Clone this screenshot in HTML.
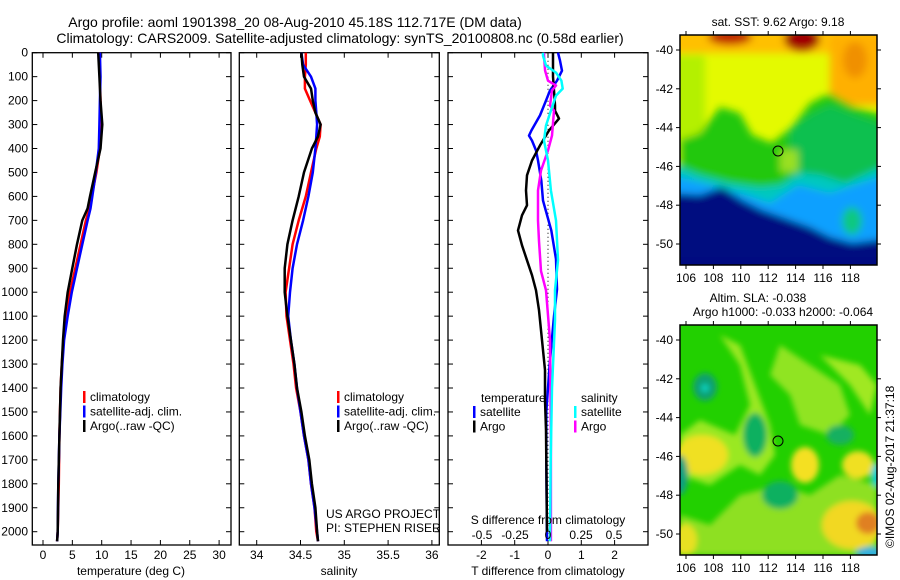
<!DOCTYPE html>
<html><head><meta charset="utf-8">
<style>
html,body{margin:0;padding:0;background:#fff;}
svg{display:block;font-family:"Liberation Sans",sans-serif;}
text{fill:#000;}
</style></head>
<body>
<svg id="fig" width="900" height="580" viewBox="0 0 900 580" xmlns="http://www.w3.org/2000/svg">
<defs>
<filter id="bl" x="-20%" y="-20%" width="140%" height="140%"><feGaussianBlur stdDeviation="4"/></filter>
<filter id="bl2" x="-20%" y="-20%" width="140%" height="140%"><feGaussianBlur stdDeviation="3"/></filter>
<clipPath id="c1"><rect x="0" y="0" width="197" height="230"/></clipPath>
</defs>
<text x="295" y="27" font-size="14" text-anchor="middle">Argo profile: aoml 1901398_20 08-Aug-2010 45.18S 112.717E (DM data)</text>
<text x="340" y="43" font-size="14" text-anchor="middle">Climatology: CARS2009. Satellite-adjusted climatology: synTS_20100808.nc (0.58d earlier)</text>

<g id="p1"></g>
<g id="p2"></g>
<g id="p3"></g>

<!-- SST map -->
<g transform="translate(680,35)">
 <g clip-path="url(#c1)">
  <rect width="197" height="230" fill="#e4fa00"/>
  <g filter="url(#bl)">
   <rect x="-10" y="-10" width="220" height="28" fill="#ffc000"/>
   <rect x="150" y="0" width="60" height="70" fill="#ffb000"/>
   <rect x="-10" y="20" width="35" height="110" fill="#b4f000"/>
   <ellipse cx="50" cy="2" rx="22" ry="8" fill="#c02000"/>
   <ellipse cx="122" cy="4" rx="18" ry="12" fill="#a00000"/>
   <ellipse cx="175" cy="25" rx="12" ry="18" fill="#f09000"/>
   <polygon points="0,105 20,98 40,72 60,78 72,100 92,108 112,92 130,68 150,58 175,72 205,80 205,200 0,200" fill="#22c810"/>
   <polygon points="110,95 130,80 150,70 175,80 205,90 205,150 110,150" fill="#10c050"/>
   <rect x="100" y="115" width="18" height="22" fill="#9ae020"/>
   <polygon points="-10,128 20,140 50,148 80,152 100,150 120,138 140,140 165,148 205,130 205,240 -10,240" fill="#00c8c0"/>
   <polygon points="-10,140 30,150 60,158 90,168 118,150 150,158 205,140 205,240 -10,240" fill="#10a0ff"/>
   <ellipse cx="172" cy="186" rx="10" ry="14" fill="#10c880"/>
   <polygon points="-10,158 20,160 42,152 62,165 82,175 102,182 130,192 150,202 172,208 205,204 205,240 -10,240" fill="#000a80"/>
  </g>
  <rect x="0" y="222" width="197" height="10" fill="#000a80"/>
 </g>
 <rect width="197" height="230" fill="none" stroke="#000" stroke-width="1.5"/>
 <circle cx="98" cy="116" r="5" fill="none" stroke="#000"/>
</g>
<text x="778" y="26" font-size="12" text-anchor="middle">sat. SST: 9.62  Argo: 9.18</text>

<!-- SLA map -->
<g transform="translate(680,325)">
 <g clip-path="url(#c1)">
  <rect width="197" height="230" fill="#22d000"/>
  <g filter="url(#bl2)">
   <path d="M40,10 L60,40 L70,80 L55,110 L20,95 L0,110 L0,150 L30,160 L60,140 L80,150 L95,130 L90,100 L75,60 L60,20Z" fill="#9ae820"/>
   <path d="M60,170 L100,160 L130,170 L160,150 L197,160 L197,230 L0,230 L0,190 L30,200Z" fill="#8ee020"/>
   <path d="M100,20 L130,40 L160,60 L170,90 L150,110 L120,100 L110,70 L90,50Z" fill="#90e420"/>
   <path d="M140,30 L180,40 L197,60 L190,90 L170,60Z" fill="#a0e820"/>
   <ellipse cx="22" cy="130" rx="26" ry="20" fill="#f0e020"/>
   <ellipse cx="125" cy="140" rx="14" ry="18" fill="#f4e020"/>
   <ellipse cx="178" cy="140" rx="16" ry="14" fill="#f0e020"/>
   <ellipse cx="172" cy="200" rx="30" ry="24" fill="#f2d820"/>
   <ellipse cx="188" cy="198" rx="12" ry="11" fill="#e08020"/>
   <ellipse cx="5" cy="215" rx="12" ry="16" fill="#e8e020"/>
   <ellipse cx="25" cy="62" rx="12" ry="14" fill="#10a070"/>
   <ellipse cx="25" cy="63" rx="4" ry="4" fill="#10d0c0"/>
   <ellipse cx="75" cy="110" rx="12" ry="22" fill="#10b060"/>
   <ellipse cx="100" cy="170" rx="18" ry="14" fill="#10b060"/>
   <ellipse cx="160" cy="110" rx="14" ry="10" fill="#18b060"/>
   <ellipse cx="0" cy="150" rx="8" ry="20" fill="#10a080"/>
   <ellipse cx="197" cy="150" rx="6" ry="12" fill="#10d0d0"/>
   <ellipse cx="190" cy="228" rx="14" ry="6" fill="#30b0e0"/>
  </g>
 </g>
 <rect width="197" height="230" fill="none" stroke="#000" stroke-width="1.5"/>
 <circle cx="98" cy="116" r="5" fill="none" stroke="#000"/>
</g>
<text x="758" y="302" font-size="12" text-anchor="middle">Altim. SLA: -0.038</text>
<text x="783" y="316" font-size="12" text-anchor="middle">Argo h1000: -0.033 h2000: -0.064</text>
<text transform="translate(894,548) rotate(-90)" font-size="12">©IMOS 02-Aug-2017 21:37:18</text>
<g id="mapaxes"></g>
</svg>
<script>
// ---- data ----
const tDepth   = [0,100,200,300,400,500,600,650,700,800,900,1000,1100,1200,1300,1400,1600,1800,2000,2040];
const tArgo    = [9.4,9.6,9.8,10.1,9.8,8.9,8.0,7.6,6.7,5.8,5.0,4.2,3.7,3.4,3.2,3.0,2.8,2.6,2.5,2.4];
const tClim    = [9.6,9.7,9.8,9.9,9.7,9.1,8.3,7.9,7.3,6.4,5.5,4.6,4.0,3.5,3.2,3.0,2.8,2.7,2.5,2.4];
const tSat     = [9.7,9.8,9.7,9.6,9.5,9.0,8.4,8.1,7.6,6.7,5.8,4.9,4.2,3.6,3.3,3.1,2.8,2.6,2.5,2.4];
const sDepth   = [0,50,100,150,200,250,300,350,400,500,600,700,800,900,1000,1100,1200,1300,1400,1500,1600,1700,1800,1900,2000,2040];
const sArgo    = [34.51,34.52,34.54,34.62,34.64,34.67,34.73,34.70,34.63,34.54,34.48,34.41,34.35,34.32,34.32,34.35,34.39,34.43,34.46,34.51,34.55,34.60,34.63,34.67,34.69,34.70];
const sClim    = [34.56,34.56,34.55,34.55,34.61,34.67,34.73,34.72,34.68,34.62,34.56,34.48,34.41,34.37,34.33,34.34,34.38,34.42,34.45,34.50,34.54,34.59,34.62,34.66,34.68,34.70];
const sSat     = [34.51,34.53,34.62,34.67,34.67,34.68,34.69,34.68,34.67,34.64,34.59,34.53,34.46,34.41,34.38,34.36,34.39,34.43,34.46,34.50,34.54,34.59,34.62,34.66,34.69,34.70];
const dTSatDepth = [0,33,75,117,158,200,262,325,346,367,408,450,533,617,742,862,988,1100,1300,1500,1700,2040];
const dTSat      = [0.3,0.36,0.42,0.27,0.06,-0.06,-0.24,-0.5,-0.57,-0.48,-0.36,-0.3,-0.2,-0.15,0.1,0.24,0.27,0.18,0.05,-0.05,-0.05,-0.03];
const dTArgoDepth= [0,100,200,221,242,275,325,387,450,512,575,637,679,742,804,867,929,992,1075,1200,1325,1450,1575,2000];
const dTArgo     = [0.15,0.15,0.2,0.21,0.21,0.33,0.03,-0.24,-0.48,-0.63,-0.66,-0.63,-0.78,-0.9,-0.78,-0.63,-0.48,-0.36,-0.27,-0.18,-0.09,-0.09,-0.06,-0.03];
const dSArgoDepth= [0,12,75,117,137,158,221,242,346,408,492,575,700,787,912,992,1200,1600,2040];
const dSArgo     = [-0.03,-0.03,-0.022,0,0.06,0.03,0.015,0.045,0.03,0,-0.052,-0.075,-0.075,-0.067,-0.052,-0.015,0.015,0.022,0.022];
const dSSatDepth = [0,12,54,83,117,150,179,242,304,367,450,575,700,867,992,1117,1400,1700,2040];
const dSSat      = [-0.037,-0.037,-0.015,0.06,0.1,0.11,0.06,0.022,-0.015,-0.03,0,0.022,0.06,0.075,0.052,0.052,0.03,0.02,0.015];
const tTicks = [0,5,10,15,20,25,30];
const sTicks = [34,34.5,35,35.5,36];
const dtTicks = [-2,-1,0,1,2];
const dsTicks = [-0.5,-0.25,0,0.25,0.5];
const dsTickLabels = ["-0.5","-0.25","0","0.25","0.5"];
const depthTicks = [0,100,200,300,400,500,600,700,800,900,1000,1100,1200,1300,1400,1500,1600,1700,1800,1900,2000];
const lonTicks = [106,108,110,112,114,116,118];
const latTicks = [-40,-42,-44,-46,-48,-50];

// ---- helpers ----
const NS="http://www.w3.org/2000/svg";
const fig=document.getElementById('fig');
function mk(tag,parent,attrs){const e=document.createElementNS(NS,tag);for(const k in attrs)e.setAttribute(k,attrs[k]);parent.appendChild(e);return e;}
const top0=52.7, perDepth=0.2395, bottom=545;
const yD=d=>top0+d*perDepth;

function panel(g,x0,x1,xs,ticks,labels,name){
  const r=mk('rect',g,{x:x0,y:top0,width:x1-x0,height:bottom-top0,fill:'none',stroke:'#000','stroke-width':1.3});
  
  
  ticks.forEach((t,i)=>{
    const x=xs(t);
    mk('line',g,{x1:x,x2:x,y1:bottom,y2:bottom-5,stroke:'#000'});
    mk('line',g,{x1:x,x2:x,y1:top0,y2:top0+5,stroke:'#000'});
    if(labels){const tx=mk('text',g,{x:x,y:bottom+14,'font-size':12,'text-anchor':'middle'});tx.textContent=labels[i];
      
      }
  });
  depthTicks.forEach(d=>{
    mk('line',g,{x1:x0,x2:x0+5,y1:yD(d),y2:yD(d),stroke:'#000'});
    mk('line',g,{x1:x1,x2:x1-5,y1:yD(d),y2:yD(d),stroke:'#000'});
  });
}
function line(g,xs,depths,vals,color,name){
  const pts=depths.map((d,i)=>xs(vals[i]).toFixed(1)+','+yD(d).toFixed(1)).join(' ');
  const p=mk('polyline',g,{points:pts,fill:'none',stroke:color,'stroke-width':2.5,'stroke-linejoin':'round'});
  
  
}
function legend(g,x,y,items){
  items.forEach((it,i)=>{
    mk('rect',g,{x:x,y:y+i*14.5-10,width:2.5,height:12,fill:it[1]});
    const t=mk('text',g,{x:x+7,y:y+i*14.5,'font-size':12});t.textContent=it[0];
    
    
  });
}
function txt(g,x,y,s,anchor,name){const t=mk('text',g,{x:x,y:y,'font-size':12,'text-anchor':anchor||'start'});t.textContent=s;
  
  return t;}

// Panel 1
const p1=document.getElementById('p1');
const xT=v=>43+v*5.87;
panel(p1,32.3,231,xT,tTicks,tTicks.map(String),'temperature-panel');
depthTicks.forEach(d=>{txt(p1,28,yD(d)+4,String(d),'end','y-tick-label');});
line(p1,xT,tDepth,tClim,'#ff0000','temp-climatology-line');
line(p1,xT,tDepth,tSat,'#0000ff','temp-satellite-line');
line(p1,xT,tDepth,tArgo,'#000000','temp-argo-line');
legend(p1,83,401,[['climatology','#ff0000'],['satellite-adj. clim.','#0000ff'],['Argo(..raw -QC)','#000']]);
txt(p1,131,575,'temperature (deg C)','middle','x-axis-title-temperature');

// Panel 2
const p2=document.getElementById('p2');
const xS=v=>256.7+(v-34)*87.6;
panel(p2,239.3,439.3,xS,sTicks,sTicks.map(String),'salinity-panel');
line(p2,xS,sDepth,sClim,'#ff0000','sal-climatology-line');
line(p2,xS,sDepth,sSat,'#0000ff','sal-satellite-line');
line(p2,xS,sDepth,sArgo,'#000000','sal-argo-line');
legend(p2,337,401,[['climatology','#ff0000'],['satellite-adj. clim.','#0000ff'],['Argo(..raw -QC)','#000']]);
txt(p2,326,518,'US ARGO PROJECT','start','project-credit');
txt(p2,326,532,'PI: STEPHEN RISER','start','pi-credit');
txt(p2,339,575,'salinity','middle','x-axis-title-salinity');

// Panel 3
const p3=document.getElementById('p3');
const xdT=v=>548+v*33.3;
const xdS=v=>548+v*134;
panel(p3,448,648,xdT,dtTicks,dtTicks.map(String),'difference-panel');
mk('line',p3,{x1:548,x2:548,y1:top0,y2:bottom,stroke:'#000','stroke-dasharray':'1,3'});
line(p3,xdT,dTSatDepth,dTSat,'#0000ff','dT-satellite-line');
line(p3,xdT,dTArgoDepth,dTArgo,'#000000','dT-argo-line');
line(p3,xdS,dSArgoDepth,dSArgo,'#ff00ff','dS-argo-line');
line(p3,xdS,dSSatDepth,dSSat,'#00ffff','dS-satellite-line');
txt(p3,481,402,'temperature','start','legend-title-temperature');
txt(p3,581,402,'salinity','start','legend-title-salinity');
legend(p3,473,416,[['satellite','#0000ff'],['Argo','#000']]);
legend(p3,574,416,[['satellite','#00ffff'],['Argo','#ff00ff']]);
txt(p3,548,524,'S difference from climatology','middle','s-diff-axis-title');
const xdSlab=v=>548+v*132;
dsTicks.forEach((t,i)=>txt(p3,xdSlab(t),539,dsTickLabels[i],'middle','s-diff-tick-label'));
txt(p3,548,575,'T difference from climatology','middle','x-axis-title-tdiff');

// map axes
const ma=document.getElementById('mapaxes');
const lonX=l=>686+(l-106)*13.7;
[[35,265],[325,555]].forEach(([y0,y1],k)=>{
  lonTicks.forEach(l=>{
    const x=lonX(l);
    mk('line',ma,{x1:x,x2:x,y1:y0,y2:y0-4,stroke:'#000'});
    mk('line',ma,{x1:x,x2:x,y1:y1,y2:y1+4,stroke:'#000'});
    txt(ma,x,y1+17,String(l),'middle','lon-tick-label');
  });
  latTicks.forEach(la=>{
    const y=y0+15+(-40-la)*19.4;
    mk('line',ma,{x1:680,x2:676,y1:y,y2:y,stroke:'#000'});
    mk('line',ma,{x1:877,x2:881,y1:y,y2:y,stroke:'#000'});
    txt(ma,673,y+4,String(la),'end','lat-tick-label');
  });
});
</script>
</body></html>
